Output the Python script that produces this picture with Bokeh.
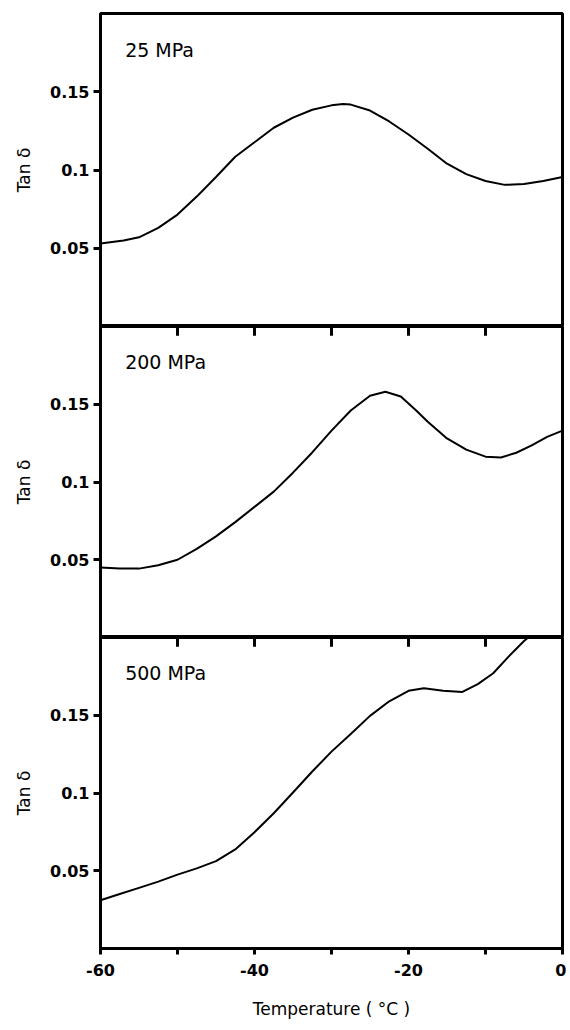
from bokeh.plotting import figure
from bokeh.models import Range1d, FixedTicker, LinearAxis, Label
from bokeh.layouts import column
from bokeh.embed import file_html
from bokeh.resources import INLINE

# ---- data ----
temp_25 = [-60, -57, -55, -52.5, -50, -47.5, -45, -42.5, -40, -37.5, -35, -32.5, -30, -28.5,
           -27.5, -25, -22.5, -20, -17.5, -15, -12.5, -10, -7.5, -5, -2.5, 0]
tan_25 = [0.053, 0.055, 0.057, 0.063, 0.0715, 0.083, 0.0955, 0.1085, 0.1177, 0.127, 0.1335, 0.1385,
          0.1413, 0.1421, 0.1418, 0.138, 0.131, 0.1227, 0.1136, 0.104, 0.0974, 0.093, 0.0905,
          0.091, 0.093, 0.0955]

temp_200 = [-60, -57.5, -55, -52.5, -50, -47.5, -45, -42.5, -40, -37.5, -35, -32.5, -30, -27.5,
            -25, -23, -21, -19, -17.5, -15, -12.5, -10, -8, -6, -4, -2, 0]
tan_200 = [0.045, 0.0443, 0.0443, 0.0465, 0.050, 0.057, 0.065, 0.0742, 0.084, 0.0938, 0.106,
           0.119, 0.133, 0.146, 0.1555, 0.158, 0.155, 0.146, 0.1388, 0.128, 0.1208, 0.1163,
           0.1158, 0.1188, 0.1236, 0.129, 0.133]

temp_500 = [-60, -57.5, -55, -52.5, -50, -47.5, -45, -42.5, -40, -37.5, -35, -32.5, -30, -27.5,
            -25, -22.5, -20, -18, -15.5, -13, -11, -9, -7, -5, -4.2]
tan_500 = [0.031, 0.035, 0.039, 0.043, 0.0475, 0.0515, 0.0562, 0.0637, 0.0748, 0.087, 0.1003,
           0.1138, 0.1266, 0.138, 0.1496, 0.159, 0.1657, 0.1674, 0.1657, 0.165, 0.170, 0.177,
           0.1877, 0.1977, 0.201]

panel_labels = ["25 MPa", "200 MPa", "500 MPa"]
y_ticks = [0.05, 0.1, 0.15]
y_tick_labels = ["0.05", "0.1", "0.15"]
x_ticks = [-60, -40, -20, 0]
x_minor_ticks = [-50, -30, -10]
x_tick_labels = ["-60", "-40", "-20", "0"]
y_label = "Tan δ"
x_label = "Temperature ( °C )"

FONT = "DejaVu Sans"
Y_MAX = 0.2
TOP_TICK_LEN = 0.006   # in data units, about 9 px


def make_panel(T, v, label, top_border, frame_h, top_ticks, bottom):
    p = figure(frame_width=462, frame_height=frame_h,
               x_range=Range1d(-60, 0), y_range=Range1d(0, Y_MAX),
               output_backend="svg", toolbar_location=None,
               x_axis_location=None,
               min_border=0, min_border_left=100, min_border_right=4,
               min_border_top=top_border, min_border_bottom=0)
    p.grid.visible = False
    p.outline_line_color = "black"
    p.outline_line_width = 3
    p.outline_line_alpha = 1
    p.background_fill_color = "white"
    p.border_fill_color = "white"

    ya = p.yaxis[0]
    ya.ticker = FixedTicker(ticks=y_ticks)
    ya.major_label_overrides = dict(zip(y_ticks, y_tick_labels))
    ya.minor_tick_line_color = None
    ya.major_tick_out = 7
    ya.major_tick_in = 0
    ya.major_tick_line_width = 3
    ya.axis_line_width = 3
    ya.major_label_text_font = FONT
    ya.major_label_text_font_style = "bold"
    ya.major_label_text_font_size = "16px"
    ya.major_label_text_color = "black"
    ya.major_label_standoff = 4
    ya.axis_label = y_label
    ya.axis_label_text_font = FONT
    ya.axis_label_text_font_style = "normal"
    ya.axis_label_text_font_size = "17px"
    ya.axis_label_text_color = "black"
    ya.axis_label_standoff = 13

    if top_ticks:
        # tick marks hanging from the shared boundary into this panel
        all_x_ticks = x_ticks[1:-1] + x_minor_ticks
        n = len(all_x_ticks)
        p.segment(x0=all_x_ticks, y0=[Y_MAX] * n, x1=all_x_ticks,
                  y1=[Y_MAX - TOP_TICK_LEN] * n, line_color="black", line_width=3)

    if bottom:
        xa = LinearAxis(ticker=FixedTicker(ticks=x_ticks, minor_ticks=x_minor_ticks))
        xa.major_label_overrides = dict(zip(x_ticks, x_tick_labels))
        xa.major_tick_out = 6
        xa.major_tick_in = 0
        xa.minor_tick_out = 6
        xa.minor_tick_in = 0
        xa.major_tick_line_width = 3
        xa.minor_tick_line_width = 3
        xa.axis_line_width = 3
        xa.major_label_text_font = FONT
        xa.major_label_text_font_style = "bold"
        xa.major_label_text_font_size = "16px"
        xa.major_label_text_color = "black"
        xa.major_label_standoff = 9
        xa.axis_label = x_label
        xa.axis_label_text_font = FONT
        xa.axis_label_text_font_style = "normal"
        xa.axis_label_text_font_size = "17px"
        xa.axis_label_text_color = "black"
        xa.axis_label_standoff = 20
        p.add_layout(xa, "below")

    p.line(T, v, line_color="black", line_width=2)
    p.add_layout(Label(x=-56.8, y=0.184, text=label, text_baseline="top", text_align="left",
                       text_font=FONT, text_font_size="19px", text_color="black"))
    return p


p1 = make_panel(temp_25, tan_25, panel_labels[0], 13, 313, False, False)
p2 = make_panel(temp_200, tan_200, panel_labels[1], 0, 311, True, False)
p3 = make_panel(temp_500, tan_500, panel_labels[2], 0, 311, True, True)

layout = column(p1, p2, p3, spacing=0)
open("out.html", "w").write(file_html(layout, INLINE))
